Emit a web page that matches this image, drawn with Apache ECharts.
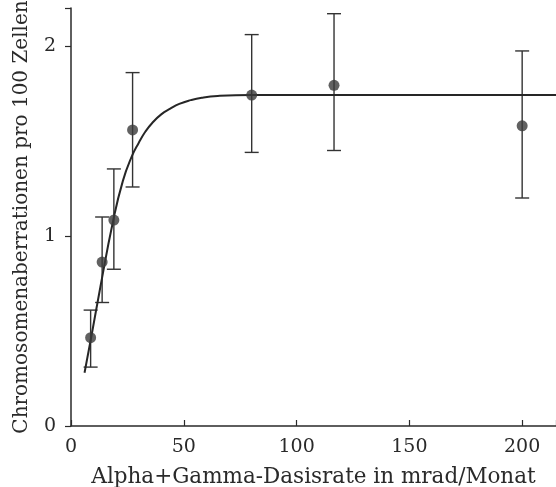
<!DOCTYPE html>
<html><head><meta charset="utf-8">
<script src="https://cdn.jsdelivr.net/npm/echarts@6/dist/echarts.min.js"></script>
<style>html,body{margin:0;padding:0;background:#fff}#c{width:556px;height:487px}</style>
</head><body><div id="c"></div>
<script>
// measured points
const doseX = [8.7, 13.8, 19.0, 27.3, 80.1, 116.6, 200.0];
const aberrY = [0.465, 0.863, 1.084, 1.558, 1.742, 1.793, 1.58];
const errLow = [0.31, 0.65, 0.825, 1.258, 1.44, 1.45, 1.20];
const errHigh = [0.61, 1.10, 1.353, 1.86, 2.06, 2.17, 1.974];
// fitted curve
const curveX = [6, 9, 13, 18.5, 23, 27, 30, 33, 36, 40, 44, 48, 53, 58, 65, 80, 215];
const curveY = [0.28, 0.47, 0.73, 1.07, 1.29, 1.42, 1.49, 1.55, 1.595, 1.64, 1.67, 1.695, 1.715, 1.728, 1.737, 1.742, 1.742];
const xTicks = [0, 50, 100, 150, 200];
const yTicks = [0, 1, 2];

const font = 'DejaVu Serif';
const ink = '#2a2a2a';
const chart = echarts.init(document.getElementById('c'));
chart.setOption({
  backgroundColor: '#ffffff',
  animation: false,
  grid: {left: 71, right: 0, top: 8, bottom: 61, containLabel: false, outerBoundsMode: 'none'},
  xAxis: {
    type: 'value', min: 0, max: 215, interval: 50,
    name: 'Alpha+Gamma-Dasisrate in mrad/Monat',
    nameLocation: 'middle', nameGap: 40,
    nameTextStyle: {fontFamily: font, fontSize: 21.5, color: ink},
    axisLine: {lineStyle: {color: ink, width: 1.5}},
    axisTick: {inside: true, length: 6, lineStyle: {color: ink, width: 1.2}},
    axisLabel: {fontFamily: font, fontSize: 19, color: ink, margin: 12,
      formatter: v => xTicks.includes(v) ? String(v) : ''},
    splitLine: {show: false}
  },
  yAxis: {
    type: 'value', min: 0, max: 2.2, interval: 1,
    name: 'Chromosomenaberrationen pro 100 Zellen',
    nameLocation: 'middle', nameGap: 39, nameRotate: 90,
    nameTextStyle: {fontFamily: font, fontSize: 20, color: ink},
    axisLine: {show: true, lineStyle: {color: ink, width: 1.5}},
    axisTick: {show: true, length: 6, lineStyle: {color: ink, width: 1.2}},
    axisLabel: {fontFamily: font, fontSize: 19, color: ink, margin: 15,
      formatter: v => yTicks.includes(v) ? String(v) : ''},
    splitLine: {show: false}
  },
  series: [
    {
      type: 'line', data: curveX.map((x, i) => [x, curveY[i]]),
      smooth: 0.5, showSymbol: false,
      lineStyle: {color: '#262626', width: 2}, z: 3
    },
    {
      type: 'custom',
      data: doseX.map((x, i) => [x, errLow[i], errHigh[i]]),
      renderItem: function (params, api) {
        const x = api.value(0);
        const lo = api.coord([x, api.value(1)]);
        const hi = api.coord([x, api.value(2)]);
        const w = 7;
        const st = {stroke: '#333', lineWidth: 1.4};
        return {type: 'group', children: [
          {type: 'line', shape: {x1: lo[0], y1: lo[1], x2: hi[0], y2: hi[1]}, style: st},
          {type: 'line', shape: {x1: lo[0]-w, y1: lo[1], x2: lo[0]+w, y2: lo[1]}, style: st},
          {type: 'line', shape: {x1: hi[0]-w, y1: hi[1], x2: hi[0]+w, y2: hi[1]}, style: st}
        ]};
      }, z: 2
    },
    {
      type: 'scatter', data: doseX.map((x, i) => [x, aberrY[i]]),
      symbol: 'circle', symbolSize: 11,
      itemStyle: {color: '#3a3a3a'}, z: 4
    }
  ]
});
</script></body></html>
